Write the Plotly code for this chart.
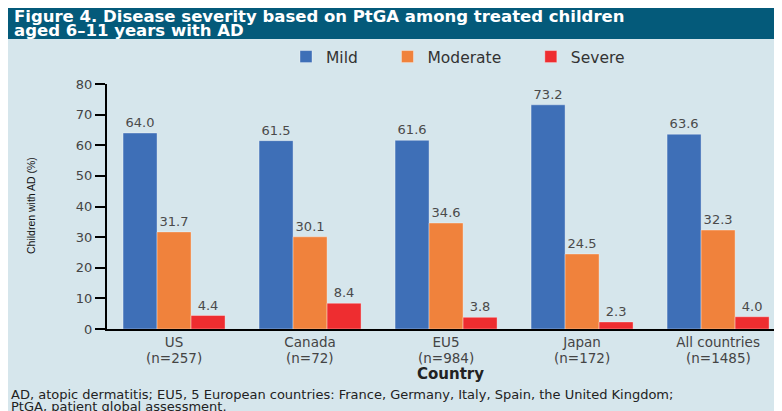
import plotly.graph_objects as go

BG_LIGHT = '#d6e6ec'
BANNER = '#045a7a'
TEXT_DARK = '#333333'
COLORS = {'Mild': '#3e6fb7', 'Moderate': '#f0823c', 'Severe': '#ee2d30'}
FONT = 'DejaVu Sans'

countries = ['US', 'Canada', 'EU5', 'Japan', 'All countries']
n_sizes = [257, 72, 984, 172, 1485]
mild = [64.0, 61.5, 61.6, 73.2, 63.6]
moderate = [31.7, 30.1, 34.6, 24.5, 32.3]
severe = [4.4, 8.4, 3.8, 2.3, 4.0]
y_ticks = [0, 10, 20, 30, 40, 50, 60, 70, 80]

# figure sits at (8, 8) in the page because of the body margin
W, H = 774, 403
L, R, T, B = 99, 0, 76, 82
PW, PH = W - L - R, H - T - B


def px_x(px):
    return (px - L) / PW


def px_y(py):
    return (H - B - py) / PH


fig = go.Figure()
for name, vals in [('Mild', mild), ('Moderate', moderate), ('Severe', severe)]:
    fig.add_trace(go.Bar(
        x=countries, y=vals, name=name + '\u00a0' * 5,
        marker_color=COLORS[name],
        marker_line=dict(color='rgba(255,255,255,0.35)', width=1),
        text=[f'{v:.1f}' for v in vals], textposition='outside',
        textfont=dict(family=FONT, size=13, color='#4a4a4a'),
        cliponaxis=False,
    ))

fig.update_layout(
    width=W, height=H,
    margin=dict(l=L, r=R, t=T, b=B, autoexpand=False),
    paper_bgcolor=BG_LIGHT,
    plot_bgcolor='rgba(0,0,0,0)',
    barmode='group', bargap=0.25, bargroupgap=0,
    font=dict(family=FONT, color=TEXT_DARK),
    legend=dict(orientation='h', x=px_x(278), xanchor='left',
                y=px_y(49), yanchor='middle',
                font=dict(family=FONT, size=15.5, color=TEXT_DARK),
                bgcolor='rgba(0,0,0,0)'),
    xaxis=dict(range=[-0.493, 4.47], showline=True, linecolor='black', linewidth=2,
               ticks='', showgrid=False,
               tickfont=dict(family=FONT, size=13.5, color='#444444')),
    yaxis=dict(range=[0, 80], tickvals=y_ticks, showline=True, linecolor='black',
               linewidth=2, ticks='outside', ticklen=10, tickwidth=1.5,
               tickcolor='black', showgrid=False, zeroline=False,
               tickfont=dict(family=FONT, size=13, color='#444444')),
    shapes=[
        dict(type='rect', xref='paper', yref='paper', layer='below',
             x0=px_x(0), x1=px_x(W), y0=px_y(31), y1=px_y(-2),
             fillcolor=BANNER, line_width=0),
    ],
)

# second line of each category label
for c, n in zip(countries, n_sizes):
    fig.add_annotation(text=f'(n={n})', x=c, xref='x', yref='paper', y=px_y(350),
                       yanchor='middle', showarrow=False,
                       font=dict(family=FONT, size=13.5, color='#444444'))

annotations = [
    dict(text='Figure 4. Disease severity based on PtGA among treated children',
         x=px_x(4), y=px_y(8), font=dict(family=FONT, size=16.5, color='white', weight='bold')),
    dict(text='aged 6–11 years with AD',
         x=px_x(4), y=px_y(22), font=dict(family=FONT, size=16.5, color='white', weight='bold')),
    dict(text='AD, atopic dermatitis; EU5, 5 European countries: France, Germany, Italy, Spain, the United Kingdom;',
         x=px_x(1), y=px_y(386), font=dict(family=FONT, size=13, color='#222222')),
    dict(text='PtGA, patient global assessment.',
         x=px_x(1), y=px_y(398), font=dict(family=FONT, size=13, color='#222222')),
]
for a in annotations:
    fig.add_annotation(xref='paper', yref='paper', xanchor='left', yanchor='middle',
                       showarrow=False, **a)

fig.add_annotation(text='Country', xref='paper', yref='paper', x=px_x(442), y=px_y(366),
                   xanchor='center', yanchor='middle', showarrow=False,
                   font=dict(family=FONT, size=15, color='#222222', weight='bold'))
fig.add_annotation(text='Children with AD (%)', xref='paper', yref='paper',
                   x=px_x(23), y=px_y(198), textangle=-90,
                   xanchor='center', yanchor='middle', showarrow=False,
                   font=dict(family='Liberation Sans', size=10.5, color='#111111'))

fig.write_html('out.html')
